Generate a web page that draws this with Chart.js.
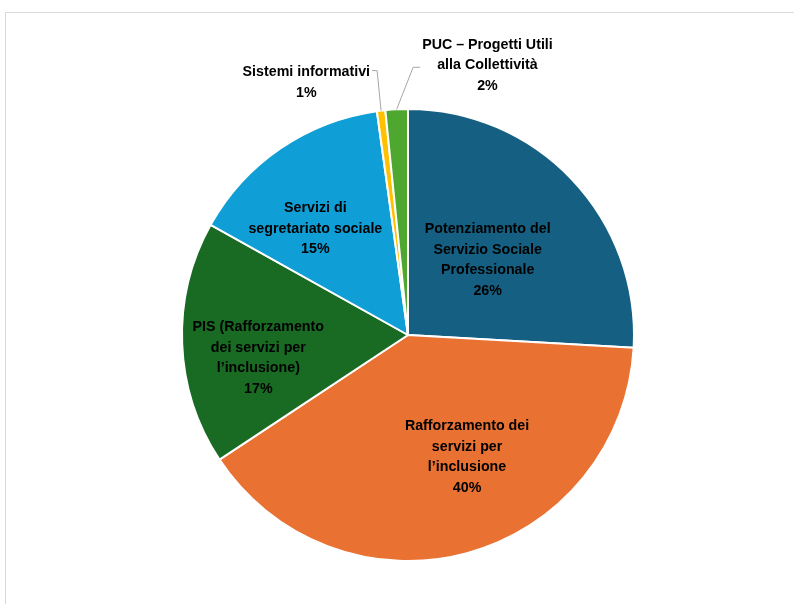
<!DOCTYPE html>
<html lang="it">
<head>
<meta charset="utf-8">
<script src="https://cdn.jsdelivr.net/npm/chart.js@4"></script>
<style>
  html, body { margin: 0; padding: 0; background: #fff; overflow: hidden; }
  #wrap { position: relative; width: 794px; height: 604px; }
  #frame { position: absolute; left: 5px; top: 12px; width: 900px; height: 700px; border: 1px solid #d9d9d9; }
  canvas { position: absolute; left: 0; top: 0; }
</style>
</head>
<body>
<div id="wrap">
  <div id="frame"></div>
  <canvas id="chart" width="794" height="604"></canvas>
</div>
<script>
// voci del grafico, in ordine orario partendo dalle ore 12
const categories = [
  ['Potenziamento del', 'Servizio Sociale', 'Professionale'],
  ['Rafforzamento dei', 'servizi per', 'l\u2019inclusione'],
  ['PIS (Rafforzamento', 'dei servizi per', 'l\u2019inclusione)'],
  ['Servizi di', 'segretariato sociale'],
  ['Sistemi informativi'],
  ['PUC \u2013 Progetti Utili', 'alla Collettivit\u00e0']
];
const shares = [25.9, 39.8, 17.4, 14.7, 0.6, 1.6];
const sliceColors = ['#156082', '#E97132', '#196B24', '#0F9ED5', '#FFC000', '#4EA72E'];

// dove mettere le etichette: dentro la fetta (spostamento angolare in gradi, frazione del raggio)
// oppure fuori con linea guida (gomito rispetto al bordo, tratto orizzontale, offset verticale del testo)
const labelPlacement = [
  { shift: 0, frac: 0.485 },
  { shift: -10.7, frac: 0.60 },
  { shift: -6.5, frac: 0.67 },
  { shift: -6.6, frac: 0.625 },
  { elbow: [-4, -40], stub: -5, dy: 12 },
  { elbow: [16.5, -42], stub: 7, dy: -2 }
];

const FONT = 'bold 15px "Liberation Sans", Arial, sans-serif';
const SQUEEZE = 0.95;   // testo leggermente condensato
const LINE_H = 20.5;

const total = shares.reduce((a, b) => a + b, 0);

function drawBlock(ctx, lines, cx, cy) {
  const top = cy - (lines.length - 1) * LINE_H / 2;
  lines.forEach((t, i) => {
    ctx.save();
    ctx.translate(cx, top + i * LINE_H);
    ctx.scale(SQUEEZE, 1);
    ctx.fillText(t, 0, 0);
    ctx.restore();
  });
}

const sliceLabels = {
  id: 'sliceLabels',
  afterDatasetsDraw(chart) {
    const ctx = chart.ctx;
    const arcs = chart.getDatasetMeta(0).data;
    ctx.save();
    ctx.font = FONT;
    ctx.fillStyle = '#000';
    ctx.textAlign = 'center';
    ctx.textBaseline = 'middle';
    arcs.forEach((arc, i) => {
      const { x, y, startAngle, endAngle, outerRadius } = arc.getProps(['x', 'y', 'startAngle', 'endAngle', 'outerRadius'], true);
      const mid = (startAngle + endAngle) / 2;
      const lines = categories[i].concat([Math.round(shares[i] / total * 100) + '%']);
      const p = labelPlacement[i];
      if (p.elbow) {
        const ex = x + Math.cos(mid) * outerRadius;
        const ey = y + Math.sin(mid) * outerRadius;
        const bx = ex + p.elbow[0];
        const by = ey + p.elbow[1];
        const sx = bx + p.stub;
        ctx.strokeStyle = '#a6a6a6';
        ctx.lineWidth = 1;
        ctx.beginPath();
        ctx.moveTo(ex, ey);
        ctx.lineTo(bx, by);
        ctx.lineTo(sx, by);
        ctx.stroke();
        const w = Math.max(...lines.map(t => ctx.measureText(t).width)) * SQUEEZE;
        const dir = Math.sign(p.stub);
        drawBlock(ctx, lines, sx + dir * (2 + w / 2), by + p.dy);
      } else {
        const a = mid + p.shift * Math.PI / 180;
        const r = outerRadius * p.frac;
        drawBlock(ctx, lines, x + Math.cos(a) * r, y + Math.sin(a) * r);
      }
    });
    ctx.restore();
  }
};

new Chart(document.getElementById('chart'), {
  type: 'pie',
  data: {
    labels: categories.map(c => c.join(' ')),
    datasets: [{
      data: shares,
      backgroundColor: sliceColors,
      borderColor: '#ffffff',
      borderWidth: 2
    }]
  },
  options: {
    responsive: false,
    animation: false,
    layout: { padding: { left: 181, right: 159, top: 108, bottom: 42 } },
    plugins: {
      legend: { display: false },
      tooltip: { enabled: false }
    }
  },
  plugins: [sliceLabels]
});
</script>
</body>
</html>
